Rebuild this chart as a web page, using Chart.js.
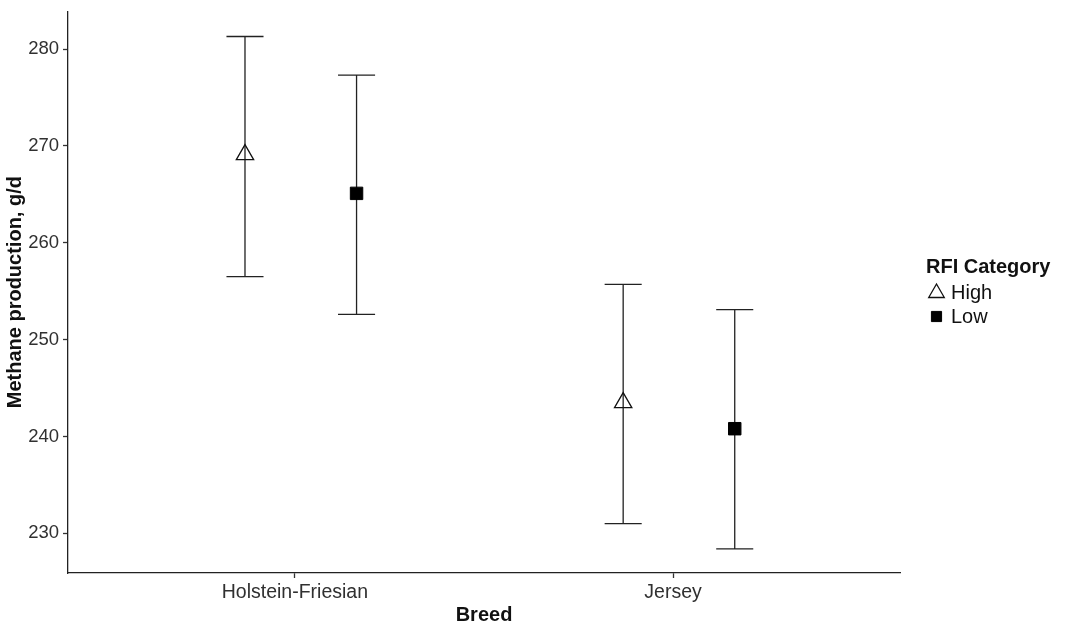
<!DOCTYPE html>
<html>
<head>
<meta charset="utf-8">
<title>Methane production by breed and RFI category</title>
<script src="https://cdn.jsdelivr.net/npm/chart.js@4.4.1/dist/chart.umd.min.js"></script>
<style>
  body { margin: 0; background: #fff; }
  #wrap { width: 1065px; height: 632px; }
</style>
</head>
<body>
<div id="wrap"><canvas id="chart" width="1065" height="632"></canvas></div>
<script>
const breeds = ['Holstein-Friesian', 'Jersey'];
const yTicks = [230, 240, 250, 260, 270, 280];

// RFI category: High
const highMean = [269.1, 243.5];
const highLower = [256.5, 231.0];
const highUpper = [281.3, 255.7];

// RFI category: Low
const lowMean = [265.1, 240.8];
const lowLower = [252.6, 228.4];
const lowUpper = [277.3, 253.1];

// dodge of each group around the breed position
const dodgeHigh = -0.132;
const dodgeLow = 0.163;
const capHalf = 0.049;

const FONT = "'Liberation Sans', Arial, sans-serif";
Chart.defaults.font.family = FONT;

function makePoints(means, dodge) {
  return means.map((m, i) => ({ x: i + 1 + dodge, y: m }));
}

// draws the whiskers for every point from its lower/upper arrays
const errorBars = {
  id: 'errorBars',
  beforeDatasetsDraw(chart) {
    const ctx = chart.ctx;
    const xs = chart.scales.x, ys = chart.scales.y;
    ctx.save();
    ctx.strokeStyle = '#222';
    ctx.lineWidth = 1.3;
    chart.data.datasets.forEach(ds => {
      ds.data.forEach((pt, i) => {
        const px = xs.getPixelForValue(pt.x);
        const half = xs.getPixelForValue(pt.x + capHalf) - px;
        const top = ys.getPixelForValue(ds.upper[i]);
        const bot = ys.getPixelForValue(ds.lower[i]);
        ctx.beginPath();
        ctx.moveTo(px, top); ctx.lineTo(px, bot);
        ctx.moveTo(px - half, top); ctx.lineTo(px + half, top);
        ctx.moveTo(px - half, bot); ctx.lineTo(px + half, bot);
        ctx.stroke();
      });
    });
    ctx.restore();
  }
};

// ggplot-style legend at the right
const sideLegend = {
  id: 'sideLegend',
  afterDraw(chart) {
    const ctx = chart.ctx;
    ctx.save();
    ctx.fillStyle = '#111';
    ctx.textBaseline = 'middle';
    ctx.textAlign = 'left';
    ctx.font = 'bold 20px ' + FONT;
    ctx.fillText('RFI Category', 926, 267);
    chart.data.datasets.forEach((ds, i) => {
      const y = 292 + i * 24.5;
      ctx.fillStyle = ds.backgroundColor;
      ctx.strokeStyle = ds.borderColor;
      ctx.lineWidth = ds.borderWidth;
      Chart.helpers.drawPoint(ctx, {
        pointStyle: ds.pointStyle,
        radius: i === 0 ? 9 : 7.2,
        rotation: 0,
        borderWidth: ds.borderWidth
      }, 936.5, y + (i === 0 ? 1 : 0));
      ctx.fillStyle = '#111';
      ctx.font = '20px ' + FONT;
      ctx.fillText(ds.label, 951, y + 1);
    });
    ctx.restore();
  }
};

new Chart(document.getElementById('chart'), {
  type: 'scatter',
  data: {
    datasets: [
      {
        label: 'High',
        data: makePoints(highMean, dodgeHigh),
        lower: highLower,
        upper: highUpper,
        pointStyle: 'triangle',
        pointRadius: 10,
        backgroundColor: 'rgba(0,0,0,0)',
        borderColor: '#111',
        borderWidth: 1.3
      },
      {
        label: 'Low',
        data: makePoints(lowMean, dodgeLow),
        lower: lowLower,
        upper: lowUpper,
        pointStyle: 'rect',
        pointRadius: 8.8,
        backgroundColor: '#000',
        borderColor: '#000',
        borderWidth: 1
      }
    ]
  },
  options: {
    responsive: false,
    animation: false,
    layout: { padding: { top: 10, right: 165, left: 0, bottom: 0 } },
    plugins: {
      legend: { display: false },
      tooltip: { enabled: false }
    },
    scales: {
      x: {
        type: 'linear',
        min: 0.4,
        max: 2.6,
        afterBuildTicks: s => { s.ticks = breeds.map((b, i) => ({ value: i + 1 })); },
        afterFit: s => { s.height = 59; s.paddingLeft = 0; s.paddingRight = 0; },
        grid: { drawOnChartArea: false, tickLength: 5, tickColor: '#333', tickWidth: 1.3 },
        border: { color: '#222', width: 1.3 },
        ticks: {
          color: '#303030',
          font: { size: 19.5 },
          padding: 3,
          callback: v => breeds[v - 1]
        },
        title: {
          display: true,
          text: 'Breed',
          color: '#111',
          font: { size: 20, weight: 'bold' },
          padding: { top: 5, bottom: 5 }
        }
      },
      y: {
        min: 225.9,
        max: 283.9,
        afterBuildTicks: s => { s.ticks = yTicks.map(v => ({ value: v })); },
        afterFit: s => { s.width = 68; s.paddingTop = 0; s.paddingBottom = 0; },
        grid: { drawOnChartArea: false, tickLength: 5, tickColor: '#333', tickWidth: 1.3 },
        border: { color: '#222', width: 1.3 },
        ticks: {
          color: '#303030',
          font: { size: 18.5 },
          padding: 4
        },
        title: {
          display: true,
          text: 'Methane production, g/d',
          color: '#111',
          font: { size: 20, weight: 'bold' },
          padding: { top: 3, bottom: 0 }
        }
      }
    }
  },
  plugins: [errorBars, sideLegend]
});
</script>
</body>
</html>
